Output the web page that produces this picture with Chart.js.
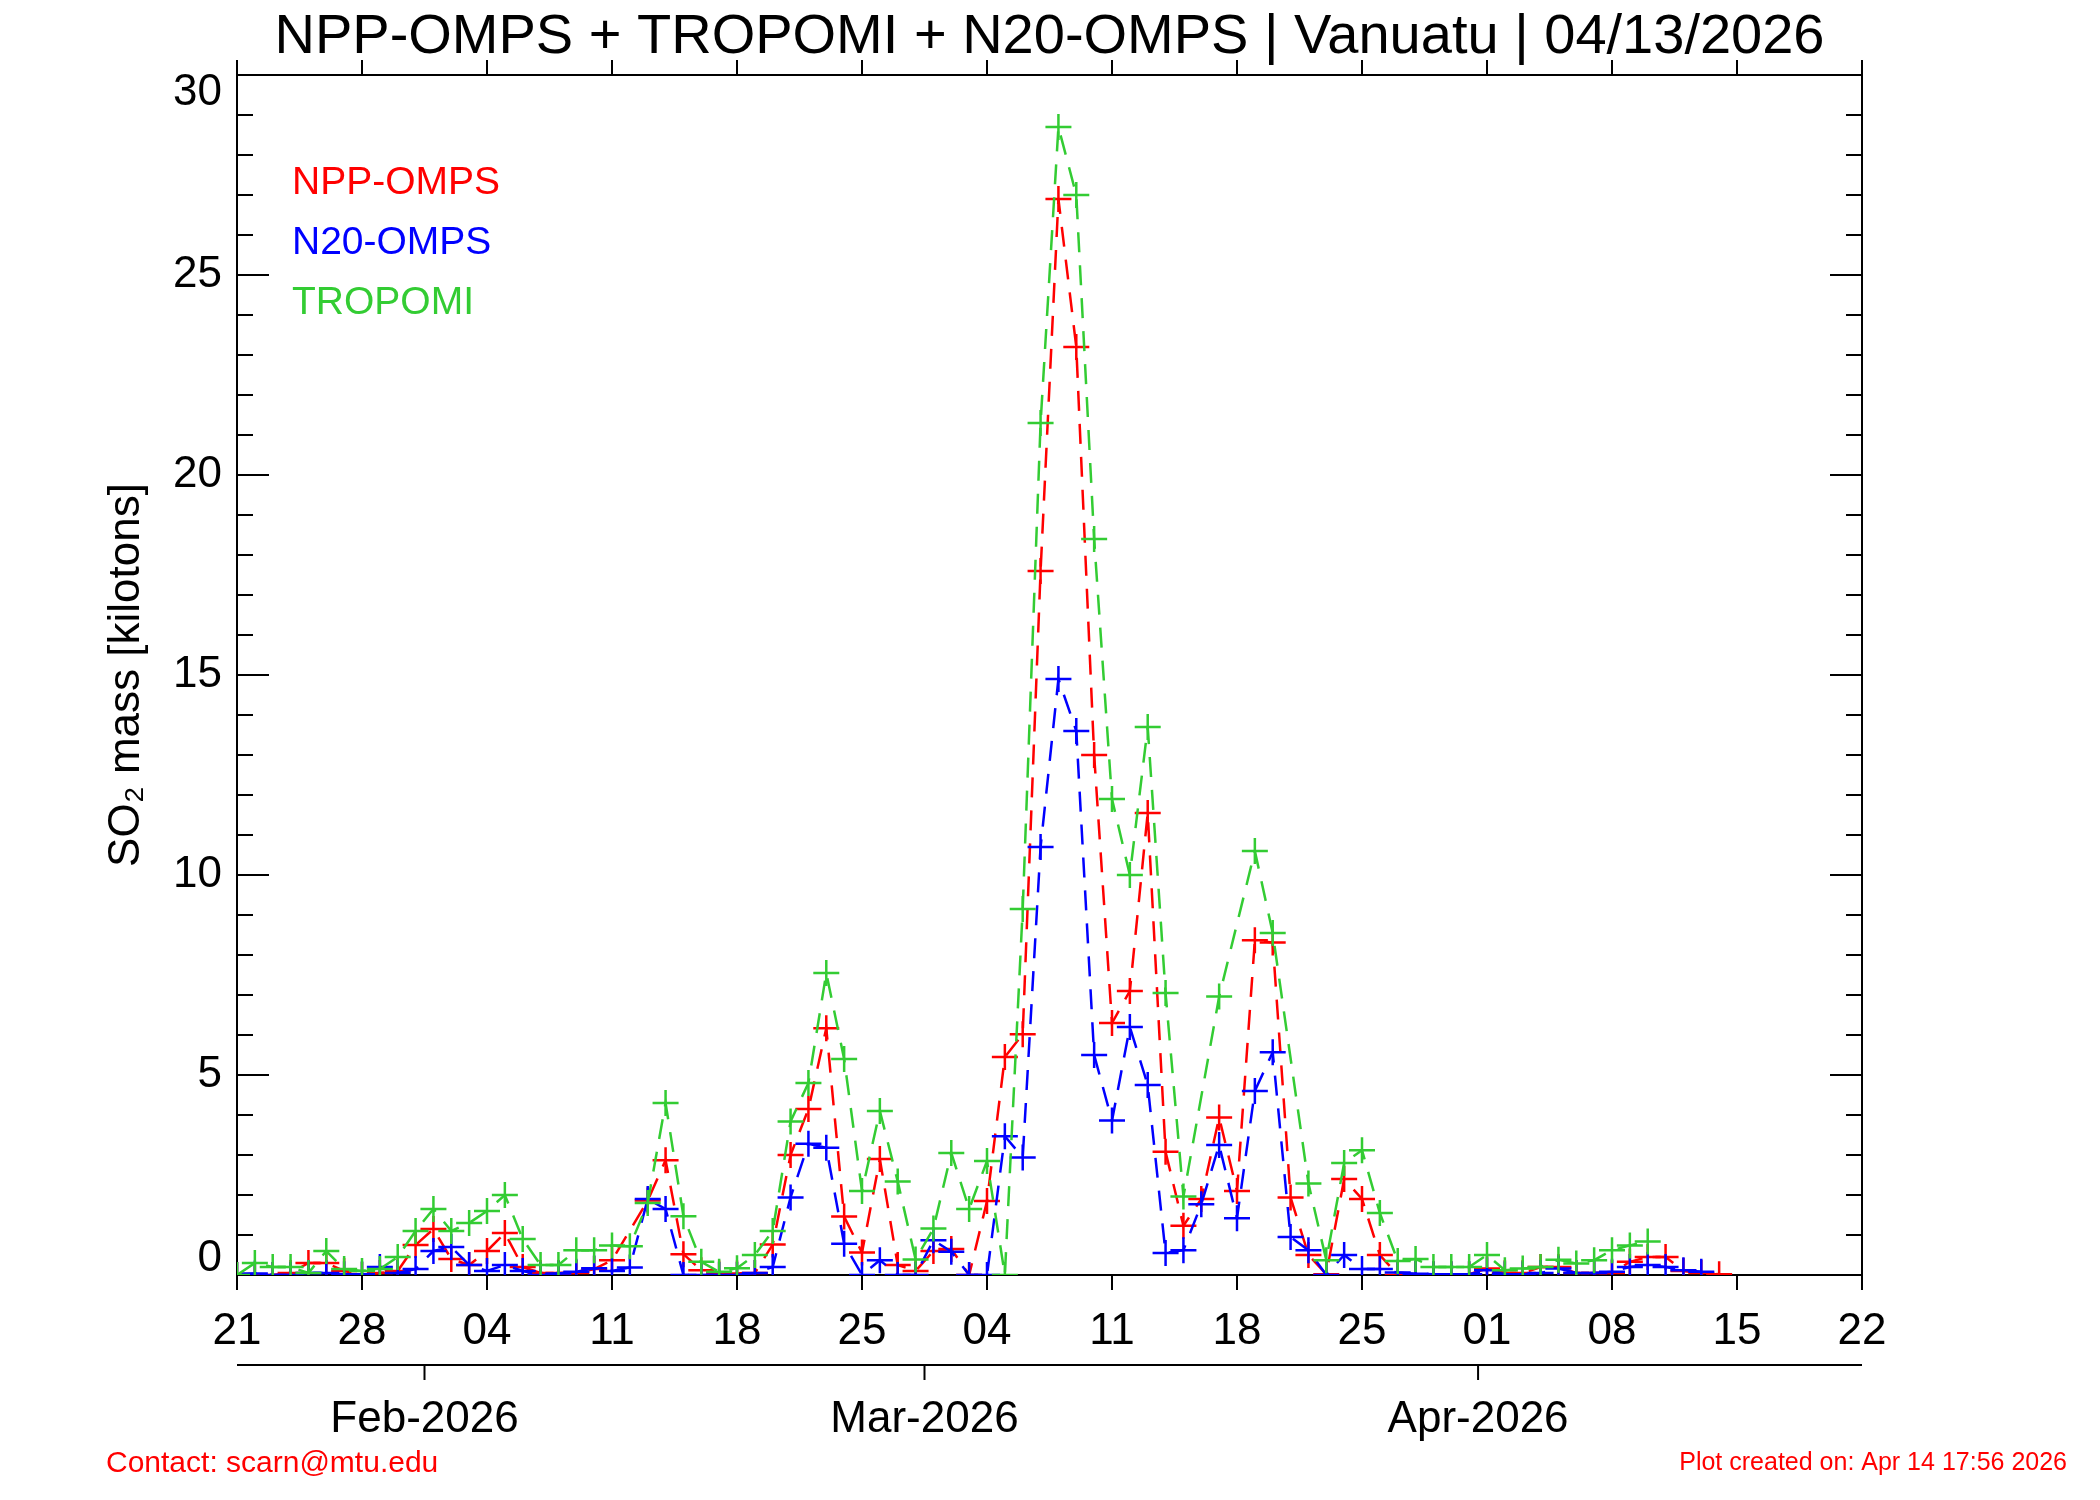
<!DOCTYPE html>
<html lang="en">
<head>
    <meta charset="UTF-8">
    <title>SO2 mass - Vanuatu</title>
    <script src="https://cdn.jsdelivr.net/npm/chart.js"></script>
    <style>
        body { margin: 0; background: #fff; }
        canvas { display: block; }
    </style>
</head>
<body>
    <canvas id="so2Chart" width="2100" height="1500"></canvas>

    <script>
        // daily values, index 0 = 21 Jan 2026 (null = no overpass that day)
        const nppOmps = [
            0, 0, 0, 0.05, 0.3, 0.3, 0.1, 0, 0.05, 0.1,
            0.75, 1.15, 0.4, 0.25, 0.6, 1.05, 0.2, 0.05, 0.05, 0.05,
            0.15, 0.37, null, 1.86, 2.87, 0.52, 0.12, 0.04, 0.04, 0.05,
            0.76, 3.0, 4.15, 6.17, 1.46, 0.56, 2.9, 0.25, 0.1, 0.6,
            0.65, 0, 1.85, 5.45, 6.02, 17.6, 26.9, 23.2, 13.0, 6.3,
            7.1, 11.55, 3.08, 1.23, 1.9, 3.94, 2.1, 8.37, 8.31, 1.94,
            0.5, 0.02, 2.4, 1.9, 0.5, 0, 0.02, 0.02, 0.02, 0.02,
            0.16, 0.05, 0.05, 0.2, 0.2, 0.05, 0.05, 0.05, 0.33, 0.45,
            0.45, 0.1, 0.05, 0.02
        ];
        const n20Omps = [
            0, 0.04, 0, 0, 0.05, 0.05, 0.02, 0.02, 0.2, 0.05,
            0.15, 0.6, 0.7, 0.25, 0.1, 0.25, 0.1, 0, 0.04, 0.08,
            0.17, 0.1, 0.19, 1.9, 1.65, 0, 0, 0, 0, 0.05,
            0.2, 1.94, 3.28, 3.18, 0.78, 0, 0.37, 0, 0, 0.87,
            0.58, 0, 0, 3.47, 2.94, 10.7, 14.9, 13.6, 5.5, 3.86,
            6.2, 4.75, 0.55, 0.62, 1.77, 3.25, 1.42, 4.6, 5.57, 0.95,
            0.62, 0, 0.5, 0.15, 0.15, 0.06, 0.03, 0.02, 0.02, 0.02,
            0.12, 0.02, 0.02, 0.05, 0.16, 0.05, 0.05, 0.08, 0.2, 0.25,
            0.2, 0.12, 0.08
        ];
        const tropomi = [
            0, 0.3, 0.2, 0.2, 0.05, 0.6, 0.15, 0.1, 0.15, 0.45,
            1.1, 1.65, 1.1, 1.3, 1.6, 2.0, 0.9, 0.25, 0.25, 0.62,
            0.62, 0.74, 0.72, 1.8, 4.3, 1.47, 0.33, 0.08, 0.17, 0.5,
            1.1, 3.84, 4.8, 7.55, 5.4, 2.1, 4.1, 2.34, 0.39, 1.16,
            3.05, 1.65, 2.85, 0, 9.15, 21.3, 28.7, 27.0, 18.4, 11.9,
            10.0, 13.7, 7.05, 1.96, null, 6.96, null, 10.6, 8.55, null,
            2.29, 0.37, 2.8, 3.12, 1.55, 0.35, 0.4, 0.2, 0.2, 0.2,
            0.5, 0.12, 0.16, 0.2, 0.38, 0.29, 0.37, 0.62, 0.74, 0.84
        ];

        // axis labels (month ticks sit at midnight, half a day before the day marks)
        const weekLabels = ['21', '28', '04', '11', '18', '25', '04', '11', '18', '25', '01', '08', '15', '22'];
        const monthDays = [10.5, 38.5, 69.5];
        const monthLabels = ['Feb-2026', 'Mar-2026', 'Apr-2026'];
        const yLabels = [0, 5, 10, 15, 20, 25, 30];

        const titleText = 'NPP-OMPS + TROPOMI + N20-OMPS | Vanuatu | 04/13/2026';

        Chart.defaults.font.family = '"Liberation Sans", Arial, sans-serif';
        Chart.defaults.color = '#000';

        function toPoints(arr) {
            return arr.map((v, i) => ({ x: i, y: v }));
        }

        function series(label, values, color, order) {
            return {
                label: label,
                data: toPoints(values),
                borderColor: color,
                backgroundColor: color,
                borderWidth: 2.5,
                borderDash: [20, 13],
                tension: 0,
                spanGaps: true,
                pointStyle: 'cross',
                pointRadius: 13,
                pointBorderWidth: 2.5,
                pointBorderColor: color,
                order: order
            };
        }

        // frame + IDL style tick marks (inward on y, outward on x), title, legend, footer
        const frameTicks = {
            id: 'frameTicks',
            beforeDatasetsDraw(chart) {
                const { ctx, chartArea: a } = chart;
                const x = chart.scales.x, y = chart.scales.y, x2 = chart.scales.x2;
                const seg = (x1, y1, xx, yy) => { ctx.beginPath(); ctx.moveTo(x1, y1); ctx.lineTo(xx, yy); ctx.stroke(); };
                ctx.save();
                ctx.strokeStyle = '#000';
                ctx.lineWidth = 2;
                ctx.strokeRect(a.left, a.top, a.right - a.left, a.bottom - a.top);
                y.ticks.forEach(t => {
                    const py = y.getPixelForValue(t.value);
                    const len = t.value % 5 === 0 ? 32 : 16;
                    seg(a.left, py, a.left + len, py);
                    seg(a.right, py, a.right - len, py);
                });
                x.ticks.forEach(t => {
                    const px = x.getPixelForValue(t.value);
                    seg(px, a.top, px, a.top - 15);
                    seg(px, a.bottom, px, a.bottom + 15);
                });
                seg(a.left, x2.top, a.right, x2.top);
                x2.ticks.forEach(t => {
                    const px = x2.getPixelForValue(t.value);
                    seg(px, x2.top, px, x2.top + 15);
                });

                // end labels of the y axis are pulled inside the frame, as in IDL
                ctx.fillStyle = '#000';
                ctx.font = '44px "Liberation Sans"';
                ctx.textAlign = 'right';
                ctx.textBaseline = 'bottom';
                ctx.fillText(String(yLabels[0]), a.left - 15, y.getPixelForValue(yLabels[0]) + 6);
                ctx.textBaseline = 'top';
                ctx.fillText(String(yLabels[yLabels.length - 1]), a.left - 15, y.getPixelForValue(yLabels[yLabels.length - 1]) - 4);
                ctx.restore();
            },
            afterDraw(chart) {
                const { ctx, chartArea: a } = chart;
                ctx.save();
                ctx.textBaseline = 'alphabetic';

                ctx.textAlign = 'center';
                ctx.fillStyle = '#000';
                ctx.font = '56px "Liberation Sans"';
                ctx.fillText(titleText, (a.left + a.right) / 2, 53);

                ctx.textAlign = 'left';
                ctx.font = '39px "Liberation Sans"';
                chart.data.datasets.forEach((ds, i) => {
                    ctx.fillStyle = ds.borderColor;
                    ctx.fillText(ds.label, a.left + 55, a.top + 119 + i * 60);
                });

                ctx.fillStyle = '#ff0000';
                ctx.font = '30px "Liberation Sans"';
                ctx.fillText('Contact: scarn@mtu.edu', 106, 1472);
                ctx.font = '25px "Liberation Sans"';
                ctx.textAlign = 'right';
                ctx.fillText('Plot created on: Apr 14 17:56 2026', 2067, 1470);
                ctx.restore();
            }
        };

        const ctx = document.getElementById('so2Chart').getContext('2d');
        new Chart(ctx, {
            type: 'line',
            data: {
                datasets: [
                    series('NPP-OMPS', nppOmps, '#ff0000', 2),
                    series('N20-OMPS', n20Omps, '#0000ff', 1),
                    series('TROPOMI', tropomi, '#33cc33', 0)
                ]
            },
            options: {
                responsive: false,
                devicePixelRatio: 1,
                animation: false,
                layout: { padding: { left: 95, right: 238, top: 75, bottom: 45 } },
                scales: {
                    x: {
                        type: 'linear',
                        position: 'bottom',
                        min: 0,
                        max: 91,
                        weight: 0,
                        grid: { display: false, drawTicks: false },
                        border: { display: false },
                        ticks: {
                            stepSize: 7,
                            autoSkip: false,
                            maxRotation: 0,
                            padding: 30,
                            font: { size: 44 },
                            callback: (v, i) => weekLabels[i]
                        },
                        afterFit: s => { s.height = 90; }
                    },
                    x2: {
                        type: 'linear',
                        position: 'bottom',
                        min: 0,
                        max: 91,
                        weight: 1,
                        grid: { display: false, drawTicks: false },
                        border: { display: false },
                        afterBuildTicks: s => { s.ticks = monthDays.map(v => ({ value: v })); },
                        ticks: {
                            autoSkip: false,
                            maxRotation: 0,
                            padding: 28,
                            font: { size: 44 },
                            callback: (v, i) => monthLabels[i]
                        },
                        afterFit: s => { s.height = 90; }
                    },
                    y: {
                        min: 0,
                        max: 30,
                        grid: { display: false, drawTicks: false },
                        border: { display: false },
                        ticks: {
                            stepSize: 1,
                            autoSkip: false,
                            padding: 15,
                            font: { size: 44 },
                            // 0 and 30 are drawn by the plugin, nudged inside
                            callback: v => (yLabels.includes(v) && v !== 0 && v !== 30) ? String(v) : ''
                        },
                        title: {
                            display: true,
                            text: 'SO₂ mass [kilotons]',
                            font: { size: 44, lineHeight: 1 },
                            padding: { top: 10, bottom: 0 }
                        },
                        afterFit: s => { s.width = 142; }
                    }
                },
                plugins: {
                    legend: { display: false },
                    tooltip: { enabled: false },
                    title: { display: false }
                }
            },
            plugins: [frameTicks]
        });
    </script>
</body>
</html>
